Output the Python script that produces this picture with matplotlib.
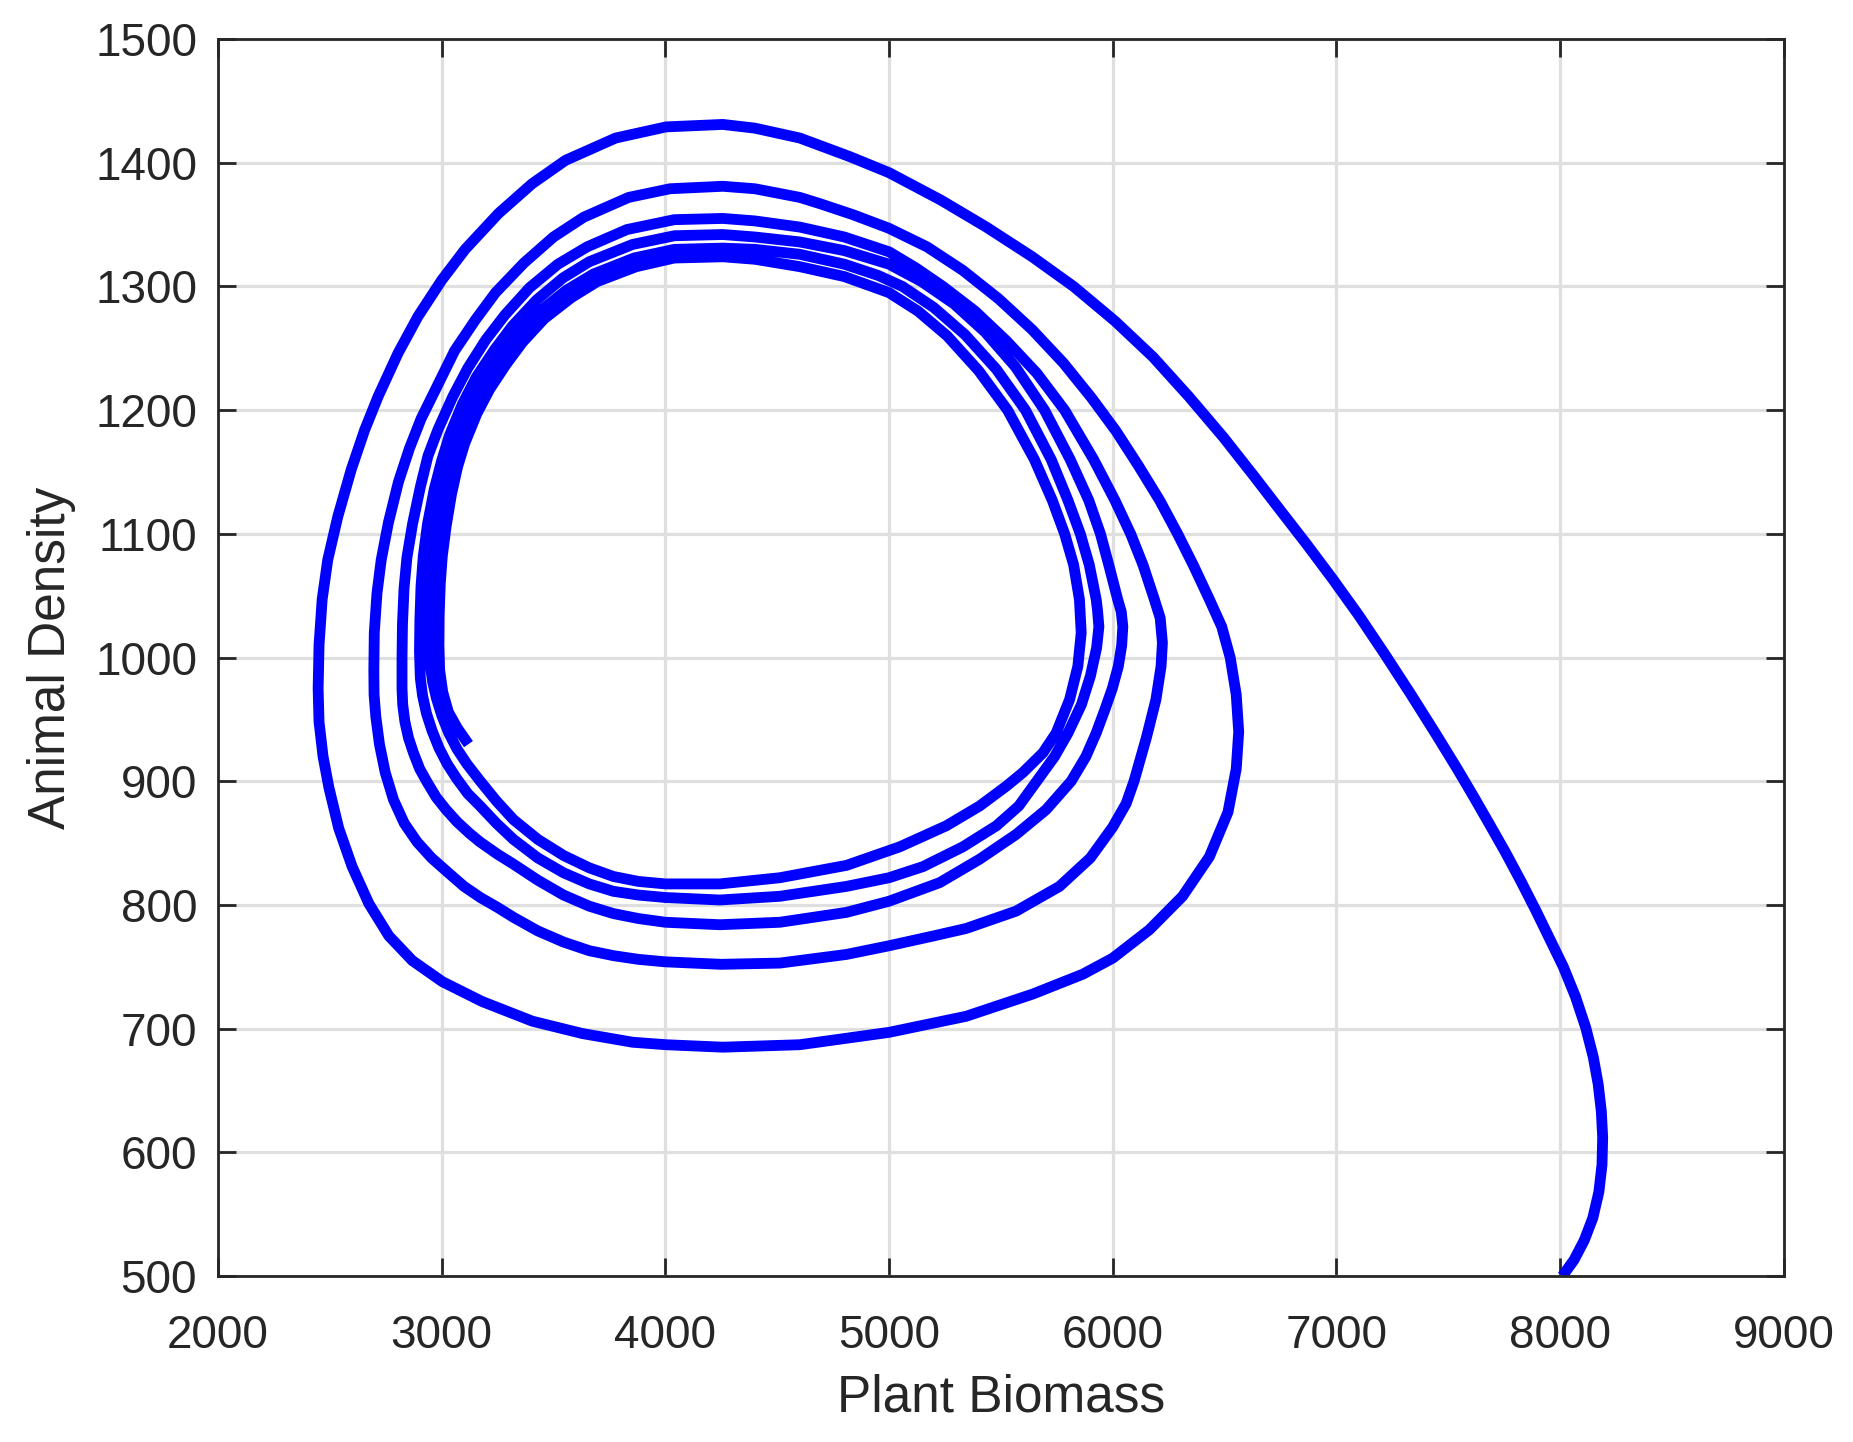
import matplotlib
matplotlib.use("Agg")
import matplotlib.pyplot as plt
import numpy as np

plt.rcParams["font.family"] = ["Liberation Sans", "DejaVu Sans"]

# (plant biomass, animal density), in drawing order
start_arc = [
    (8010, 500), (8062, 513), (8108, 529), (8146, 547), (8173, 568), (8187, 590),
    (8190, 612), (8184, 633), (8170, 655), (8148, 677), (8114, 701), (8068, 726),
    (8014, 750), (7952, 773), (7890, 796), (7825, 819), (7757, 842), (7688, 864),
    (7615, 887), (7540, 910), (7445, 938), (7330, 971), (7215, 1003), (7100, 1034),
    (6985, 1063), (6865, 1092), (6745, 1120), (6630, 1147), (6495, 1178), (6340, 1211),
    (6180, 1243), (6010, 1272), (5825, 1300), (5640, 1324), (5435, 1348), (5230, 1370),
    (5000, 1392), (4824, 1405), (4601, 1420), (4400, 1428), (4257, 1431),
]

loop0 = [
    (4003, 1429), (3778, 1420), (3554, 1402), (3404, 1383), (3254, 1359), (3105, 1330),
    (3000, 1305), (2895, 1276), (2805, 1246), (2716, 1211), (2656, 1184), (2596, 1152),
    (2536, 1114), (2491, 1079), (2466, 1047), (2452, 1010), (2448, 975), (2452, 948),
    (2470, 920), (2496, 895), (2540, 862), (2600, 831), (2675, 801), (2764, 775),
    (2869, 755), (3003, 738), (3180, 722), (3406, 706), (3630, 696), (3854, 689),
    (4003, 687), (4257, 685), (4601, 687), (5000, 697), (5345, 710), (5643, 728),
    (5866, 744), (6000, 757), (6164, 780), (6312, 807), (6432, 839), (6515, 875),
    (6552, 910), (6563, 940), (6552, 970), (6525, 1000), (6487, 1025), (6432, 1047),
    (6362, 1074), (6290, 1100), (6210, 1127), (6115, 1155), (6015, 1183), (5905, 1210),
    (5780, 1238), (5640, 1265), (5490, 1290), (5330, 1313), (5170, 1332), (5000, 1347),
    (4839, 1358), (4690, 1367), (4601, 1372), (4400, 1379), (4257, 1381),
]

loop1 = [
    (4021, 1379), (3836, 1372), (3635, 1356), (3500, 1340), (3368, 1319), (3241, 1295),
    (3151, 1273), (3058, 1248), (2987, 1222), (2908, 1193), (2856, 1169), (2807, 1142),
    (2762, 1109), (2730, 1079), (2711, 1052), (2699, 1020), (2697, 990), (2698, 970),
    (2706, 952), (2722, 930), (2748, 907), (2785, 885), (2833, 866), (2890, 851),
    (2955, 838), (3030, 826), (3100, 815), (3173, 806), (3250, 798), (3321, 790),
    (3430, 779), (3545, 770), (3660, 763), (3768, 759), (3880, 756), (4000, 754),
    (4250, 752), (4512, 753), (4810, 760), (5000, 767), (5200, 775), (5345, 781),
    (5568, 795), (5762, 815), (5900, 838), (6000, 863), (6060, 882), (6095, 900),
    (6150, 935), (6193, 966), (6216, 993), (6222, 1012), (6212, 1032), (6186, 1047),
    (6135, 1075), (6080, 1100), (6010, 1127), (5915, 1160), (5785, 1200), (5660, 1230),
    (5525, 1256), (5385, 1280), (5241, 1300), (5120, 1315), (5000, 1328), (4800, 1340),
    (4601, 1348), (4400, 1353), (4257, 1355),
]

loop2 = [
    (4040, 1354), (3828, 1346), (3650, 1332), (3520, 1318), (3393, 1299), (3283, 1277),
    (3198, 1257), (3117, 1234), (3050, 1211), (2983, 1184), (2939, 1163), (2905, 1138),
    (2870, 1108), (2845, 1081), (2832, 1056), (2825, 1027), (2823, 1000), (2823, 975),
    (2826, 962), (2836, 948), (2852, 935), (2874, 923), (2902, 910), (2936, 899),
    (2976, 887), (3020, 877), (3070, 867), (3124, 858), (3171, 851), (3250, 841),
    (3321, 833), (3430, 820), (3545, 808), (3660, 799), (3768, 793), (3880, 789),
    (4000, 786), (4244, 784), (4512, 786), (4810, 794), (5000, 803), (5226, 818),
    (5405, 837), (5568, 857), (5702, 877), (5814, 900), (5880, 920), (5926, 939),
    (5965, 958), (5998, 975), (6025, 993), (6040, 1010), (6045, 1025), (6038, 1037),
    (6022, 1047), (5985, 1073), (5945, 1100), (5893, 1127), (5810, 1160), (5695, 1200),
    (5565, 1235), (5430, 1263), (5290, 1286), (5145, 1304), (5000, 1318), (4800, 1329),
    (4601, 1336), (4400, 1340), (4257, 1342),
]

loop3 = [
    (4040, 1341), (3854, 1334), (3660, 1320), (3543, 1307), (3424, 1289), (3316, 1268),
    (3237, 1249), (3156, 1227), (3093, 1205), (3036, 1180), (3000, 1159), (2967, 1136),
    (2937, 1108), (2918, 1082), (2908, 1058), (2903, 1031), (2901, 1005), (2905, 983),
    (2915, 969), (2932, 955), (2957, 941), (2988, 927), (3025, 914), (3068, 902),
    (3117, 890), (3172, 880), (3245, 866), (3321, 853), (3430, 838), (3545, 826),
    (3660, 817), (3768, 811), (3880, 808), (4000, 806), (4244, 804), (4512, 807),
    (4810, 815), (5000, 822), (5152, 831), (5330, 847), (5480, 864), (5580, 880),
    (5660, 900), (5740, 920), (5800, 939), (5860, 962), (5900, 985), (5928, 1008),
    (5938, 1025), (5932, 1038), (5926, 1047), (5895, 1075), (5855, 1100), (5800, 1127),
    (5725, 1160), (5610, 1200), (5480, 1233), (5340, 1261), (5200, 1283), (5060, 1300),
    (4950, 1309), (4800, 1318), (4601, 1326), (4400, 1330), (4257, 1331),
]

loop4 = [
    (4040, 1330), (3860, 1323), (3678, 1310), (3558, 1297), (3440, 1280), (3335, 1260),
    (3257, 1242), (3182, 1222), (3120, 1201), (3065, 1176), (3033, 1157), (3002, 1135),
    (2977, 1108), (2960, 1083), (2950, 1061), (2946, 1035), (2945, 1010), (2949, 995),
    (2959, 981), (2977, 967), (3001, 953), (3032, 939), (3069, 926), (3113, 914),
    (3173, 900), (3245, 884), (3321, 869), (3430, 853), (3545, 840), (3660, 830),
    (3768, 823), (3880, 819), (4000, 817), (4244, 817), (4512, 822), (4810, 832),
    (5048, 847), (5256, 864), (5405, 880), (5524, 896), (5598, 907), (5688, 923),
    (5747, 939), (5807, 966), (5844, 993), (5859, 1020), (5851, 1047), (5825, 1075),
    (5785, 1100), (5730, 1127), (5650, 1160), (5530, 1200), (5400, 1232), (5260, 1260),
    (5130, 1280), (5000, 1295), (4800, 1308), (4601, 1316), (4400, 1322), (4257, 1324),
]

last_arc = [
    (4040, 1323), (3870, 1316), (3696, 1304), (3580, 1291), (3459, 1274), (3362, 1255),
    (3288, 1237), (3215, 1217), (3157, 1197), (3103, 1173), (3071, 1154), (3044, 1132),
    (3020, 1106), (3003, 1082), (2994, 1060), (2989, 1034), (2988, 1010), (2991, 990),
    (3005, 972), (3030, 956), (3070, 943), (3120, 930),
]

trajectory = np.array(start_arc + loop0 + loop1 + loop2 + loop3 + loop4 + last_arc)
plant, animal = trajectory[:, 0], trajectory[:, 1]

x_ticks = list(range(2000, 9001, 1000))
y_ticks = list(range(500, 1501, 100))

fig = plt.figure(figsize=(18.53, 14.42), dpi=100)
ax = fig.add_axes([0.1176, 0.1151, 0.8451, 0.8578])

ax.plot(plant, animal, color="#0000ff", lw=7.8,
        solid_joinstyle="round", solid_capstyle="butt")

ax.set_xlim(2000, 9000)
ax.set_ylim(500, 1500)
ax.set_xticks(x_ticks)
ax.set_yticks(y_ticks)
ax.grid(True, color="#dfdfdf", lw=2.3)
ax.set_axisbelow(True)

for s in ax.spines.values():
    s.set_color("#262626")
    s.set_linewidth(2)
ax.tick_params(direction="in", length=13, width=2, color="#262626",
               labelcolor="#262626", labelsize=33, top=True, right=True)
ax.tick_params(axis="x", pad=27)
ax.tick_params(axis="y", pad=15)

ax.set_xlabel("Plant Biomass", fontsize=37, color="#262626")
ax.set_ylabel("Animal Density", fontsize=37, color="#262626")
ax.xaxis.set_label_coords(0.5, -0.0986)
ax.yaxis.set_label_coords(-0.106, 0.5)
ax.xaxis.label.set_va("center")
ax.yaxis.label.set_va("center")

fig.savefig("out.png", dpi=100)
